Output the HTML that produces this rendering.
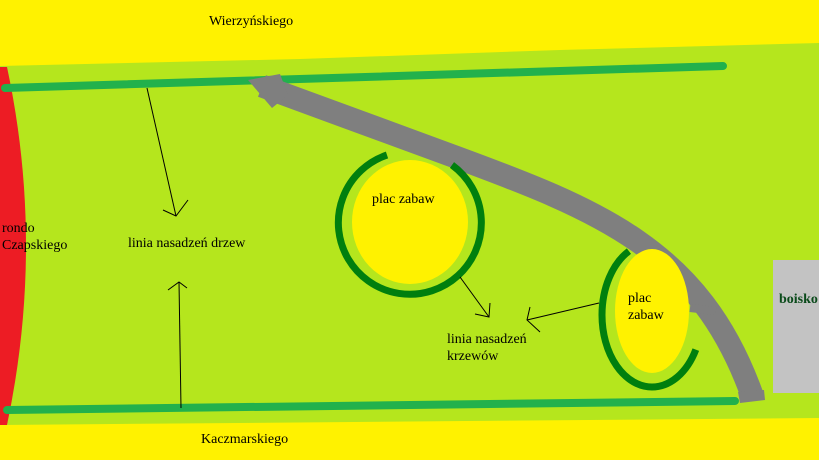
<!DOCTYPE html>
<html><head><meta charset="utf-8"><style>
html,body{margin:0;padding:0;width:819px;height:460px;overflow:hidden;background:#fff200}
svg{display:block}
text{font-family:"Liberation Serif",serif;font-size:14px;fill:#000}
</style></head><body>
<svg width="819" height="460" viewBox="0 0 819 460">
<rect width="819" height="460" fill="#fff200"/>
<polygon points="0,66 300,59 560,50 819,43 819,418 0,425" fill="#b5e61d"/>
<path d="M0,67 L7,67 Q45,245 7,425 L0,425 Z" fill="#ed1c24"/>
<line x1="5" y1="88" x2="723" y2="66" stroke="#22b14c" stroke-width="8" stroke-linecap="round"/>
<line x1="7" y1="410" x2="735" y2="401" stroke="#22b14c" stroke-width="8" stroke-linecap="round"/>
<!-- gray path -->
<path d="M262,86 L450,155 C600,210 700,250 752,395" fill="none" stroke="#7f7f7f" stroke-width="23"/>
<polygon points="248,80 280,74 288,95 272,108" fill="#7f7f7f"/>
<polygon points="738,392 764,390 765,400 740,403" fill="#7f7f7f"/>
<line x1="690" y1="308" x2="716" y2="311" stroke="#7f7f7f" stroke-width="8"/>
<!-- playground 1 -->
<ellipse cx="410" cy="222" rx="58" ry="62" fill="#fff200"/>
<path d="M387,155 A71.5,71.5 0 1 0 452,165" fill="none" stroke="#007f0e" stroke-width="7"/>
<!-- playground 2 -->
<ellipse cx="652" cy="311" rx="37" ry="62" fill="#fff200"/>
<ellipse cx="652" cy="315" rx="50" ry="72" fill="none" stroke="#007f0e" stroke-width="7" pathLength="360" stroke-dasharray="214 146" stroke-dashoffset="-33"/>
<!-- boisko -->
<rect x="773" y="260" width="46" height="133" fill="#c3c3c3"/>
<text x="779" y="303" style="fill:#0a4a1a;font-weight:bold">boisko</text>
<!-- arrows -->
<g stroke="#000" stroke-width="1" fill="none">
<line x1="147" y1="88" x2="176" y2="216"/><polyline points="163,210 176,216 188,200"/>
<line x1="181" y1="408" x2="179" y2="282"/><polyline points="168,290 179,282 187,288"/>
<line x1="460" y1="277" x2="489" y2="317"/><polyline points="475,314 489,317 490,303"/>
<line x1="599" y1="303" x2="527" y2="320"/><polyline points="530,307 527,320 540,332"/>
</g>
<text x="209" y="25">Wierzyńskiego</text>
<text x="201" y="443">Kaczmarskiego</text>
<text x="2" y="232">rondo</text>
<text x="2" y="249">Czapskiego</text>
<text x="128" y="247">linia nasadzeń drzew</text>
<text x="372" y="203">plac zabaw</text>
<text x="628" y="302">plac</text>
<text x="628" y="319">zabaw</text>
<text x="447" y="343">linia nasadzeń</text>
<text x="447" y="360">krzewów</text>
</svg>
</body></html>
